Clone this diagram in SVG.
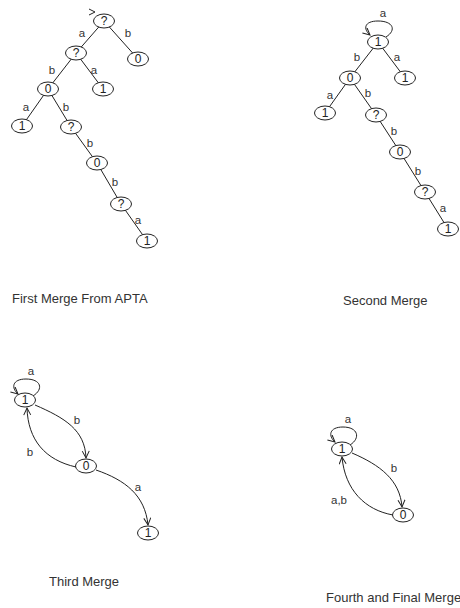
<svg xmlns="http://www.w3.org/2000/svg" width="460" height="608" viewBox="0 0 460 608">
<defs>
<marker id="arr" markerWidth="10" markerHeight="10" refX="8" refY="4" orient="auto" markerUnits="userSpaceOnUse">
<path d="M1,0.5 L8,4 L1,7.5" fill="none" stroke="#222" stroke-width="1"/>
</marker>
</defs>
<style>
.n ellipse{fill:#fff;stroke:#222;stroke-width:1}
.n text{font-family:"Liberation Sans",Arial,sans-serif;font-size:12px;fill:#222;text-anchor:middle}
.e{fill:none;stroke:#222;stroke-width:1}
.ea{fill:none;stroke:#222;stroke-width:1;marker-end:url(#arr)}
.l{font-family:"Liberation Sans",Arial,sans-serif;font-size:11.5px;fill:#333;text-anchor:middle}
.cap{font-family:"Liberation Sans",Arial,sans-serif;font-size:13px;fill:#333}
</style>
<rect width="460" height="608" fill="#fff"/>

<g id="connectors">
<path class="e" d="M89,9 L95,12 L89,15"/>
<line class="e" x1="104" y1="21" x2="76" y2="53"/>
<line class="e" x1="104" y1="21" x2="138" y2="59"/>
<line class="e" x1="76" y1="53" x2="48" y2="89"/>
<line class="e" x1="76" y1="53" x2="103" y2="89"/>
<line class="e" x1="48" y1="89" x2="22" y2="126"/>
<line class="e" x1="48" y1="89" x2="71" y2="127"/>
<line class="e" x1="71" y1="127" x2="97" y2="163"/>
<line class="e" x1="97" y1="163" x2="121" y2="204"/>
<line class="e" x1="121" y1="204" x2="147" y2="241"/>

<path class="ea" d="M386,37 C397,30 393,21 378,21 C364,21 363,29 370,35"/>
<line class="e" x1="378" y1="42" x2="350" y2="78"/>
<line class="e" x1="378" y1="42" x2="405" y2="78"/>
<line class="e" x1="350" y1="78" x2="325" y2="113"/>
<line class="e" x1="350" y1="78" x2="376" y2="115"/>
<line class="e" x1="376" y1="115" x2="400" y2="152"/>
<line class="e" x1="400" y1="152" x2="425" y2="192"/>
<line class="e" x1="425" y1="192" x2="448" y2="229"/>

<path class="ea" d="M33,396 C44,389 41,379 26,379 C12,379 11,388 18,394"/>
<path class="ea" d="M35,405 C65,418 85,430 86,458"/>
<path class="ea" d="M76,467 C45,460 28,440 27,408"/>
<path class="ea" d="M96,470 C125,480 145,495 148,525"/>

<path class="ea" d="M350,445 C361,438 358,427 343,427 C329,427 328,436 335,442"/>
<path class="ea" d="M352,453 C380,465 400,480 402,507"/>
<path class="ea" d="M393,515 C365,510 345,490 342,457"/>
</g>

<g id="edge-labels">
<text class="l" x="82" y="37">a</text>
<text class="l" x="128" y="37">b</text>
<text class="l" x="52" y="74">b</text>
<text class="l" x="94" y="74">a</text>
<text class="l" x="26" y="111">a</text>
<text class="l" x="66" y="111">b</text>
<text class="l" x="90" y="147">b</text>
<text class="l" x="115" y="186">b</text>
<text class="l" x="138" y="224">a</text>

<text class="l" x="383" y="17">a</text>
<text class="l" x="357" y="61">b</text>
<text class="l" x="397" y="61">a</text>
<text class="l" x="330" y="99">a</text>
<text class="l" x="368" y="97">b</text>
<text class="l" x="394" y="135">b</text>
<text class="l" x="418" y="175">b</text>
<text class="l" x="443" y="212">a</text>

<text class="l" x="31" y="375">a</text>
<text class="l" x="77" y="424">b</text>
<text class="l" x="30" y="456">b</text>
<text class="l" x="138" y="491">a</text>

<text class="l" x="348" y="423">a</text>
<text class="l" x="394" y="472">b</text>
<text class="l" x="339" y="504">a,b</text>
</g>

<g id="d1-n1" class="n"><ellipse cx="104" cy="21" rx="10.5" ry="7"/><text x="104" y="25">?</text></g>
<g id="d1-n2" class="n"><ellipse cx="76" cy="53" rx="10.5" ry="7"/><text x="76" y="57">?</text></g>
<g id="d1-n3" class="n"><ellipse cx="138" cy="59" rx="10.5" ry="7"/><text x="138" y="63">0</text></g>
<g id="d1-n4" class="n"><ellipse cx="48" cy="89" rx="10.5" ry="7"/><text x="48" y="93">0</text></g>
<g id="d1-n5" class="n"><ellipse cx="103" cy="89" rx="10.5" ry="7"/><text x="103" y="93">1</text></g>
<g id="d1-n6" class="n"><ellipse cx="22" cy="126" rx="10.5" ry="7"/><text x="22" y="130">1</text></g>
<g id="d1-n7" class="n"><ellipse cx="71" cy="127" rx="10.5" ry="7"/><text x="71" y="131">?</text></g>
<g id="d1-n8" class="n"><ellipse cx="97" cy="163" rx="10.5" ry="7"/><text x="97" y="167">0</text></g>
<g id="d1-n9" class="n"><ellipse cx="121" cy="204" rx="10.5" ry="7"/><text x="121" y="208">?</text></g>
<g id="d1-n10" class="n"><ellipse cx="147" cy="241" rx="10.5" ry="7"/><text x="147" y="245">1</text></g>

<g id="d2-n1" class="n"><ellipse cx="378" cy="42" rx="10.5" ry="7"/><text x="378" y="46">1</text></g>
<g id="d2-n2" class="n"><ellipse cx="350" cy="78" rx="10.5" ry="7"/><text x="350" y="82">0</text></g>
<g id="d2-n3" class="n"><ellipse cx="405" cy="78" rx="10.5" ry="7"/><text x="405" y="82">1</text></g>
<g id="d2-n4" class="n"><ellipse cx="325" cy="113" rx="10.5" ry="7"/><text x="325" y="117">1</text></g>
<g id="d2-n5" class="n"><ellipse cx="376" cy="115" rx="10.5" ry="7"/><text x="376" y="119">?</text></g>
<g id="d2-n6" class="n"><ellipse cx="400" cy="152" rx="10.5" ry="7"/><text x="400" y="156">0</text></g>
<g id="d2-n7" class="n"><ellipse cx="425" cy="192" rx="10.5" ry="7"/><text x="425" y="196">?</text></g>
<g id="d2-n8" class="n"><ellipse cx="448" cy="229" rx="10.5" ry="7"/><text x="448" y="233">1</text></g>

<g id="d3-n1" class="n"><ellipse cx="25" cy="400" rx="10.5" ry="7"/><text x="25" y="404">1</text></g>
<g id="d3-n2" class="n"><ellipse cx="86" cy="466" rx="10.5" ry="7"/><text x="86" y="470">0</text></g>
<g id="d3-n3" class="n"><ellipse cx="148" cy="533" rx="10.5" ry="7"/><text x="148" y="537">1</text></g>

<g id="d4-n1" class="n"><ellipse cx="342" cy="449" rx="10.5" ry="7"/><text x="342" y="453">1</text></g>
<g id="d4-n2" class="n"><ellipse cx="403" cy="515" rx="10.5" ry="7"/><text x="403" y="519">0</text></g>

<g id="captions">
<text class="cap" x="12" y="303">First Merge From APTA</text>
<text class="cap" x="343" y="305">Second Merge</text>
<text class="cap" x="49" y="586">Third Merge</text>
<text class="cap" x="326" y="602">Fourth and Final Merge</text>
</g>
</svg>
